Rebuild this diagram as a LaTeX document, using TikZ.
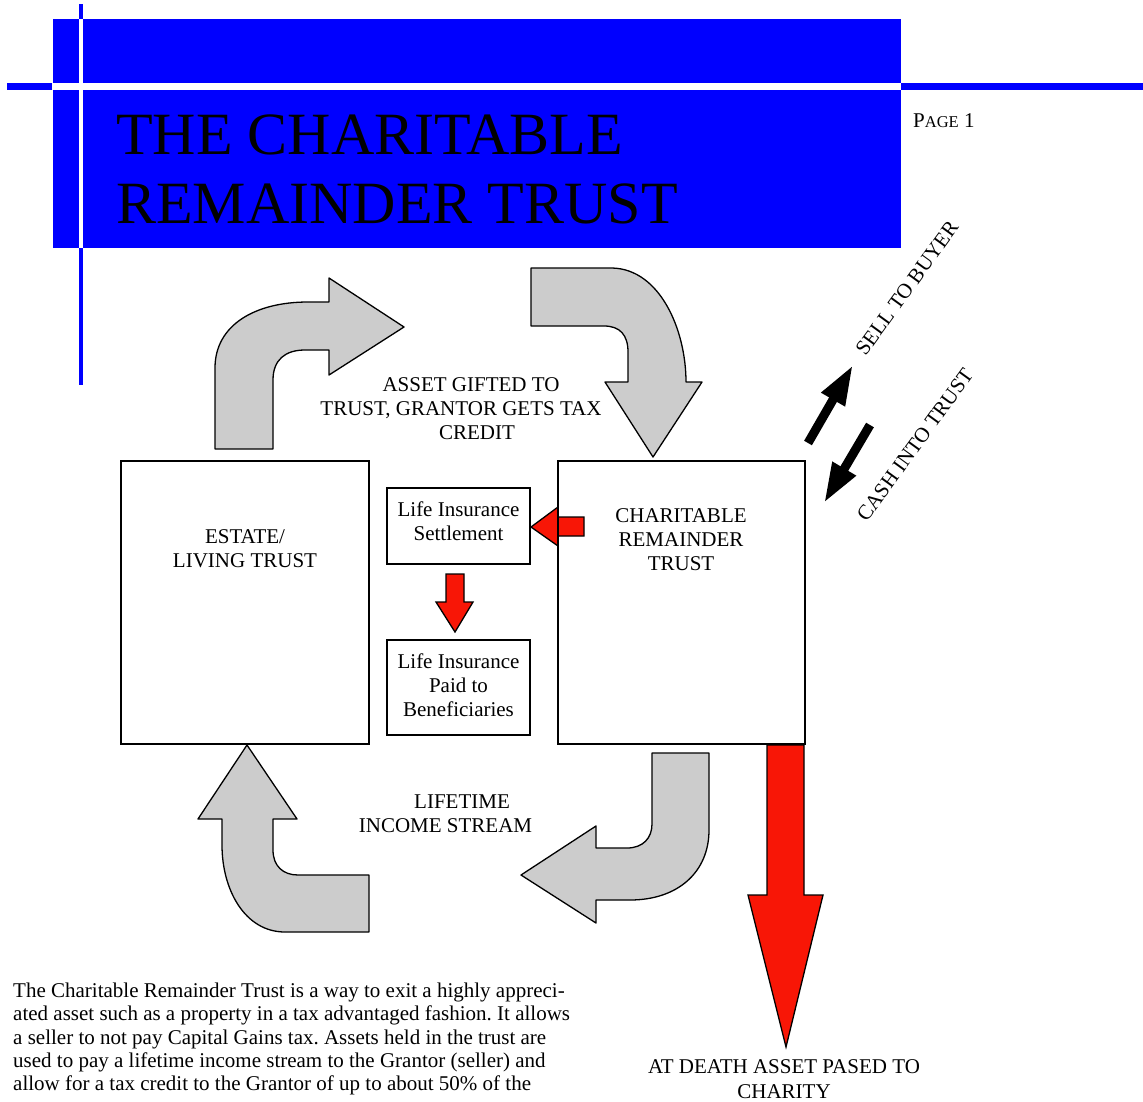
\documentclass[tikz,border=0pt]{standalone}
\usepackage{fontspec}
\setmainfont{Liberation Serif}
\usetikzlibrary{arrows.meta}
\frenchspacing
\definecolor{hdrblue}{RGB}{0,0,255}
\definecolor{arrowgray}{RGB}{204,204,204}
\definecolor{arrowred}{RGB}{248,22,6}
\tikzset{
  box/.style={draw=black, line width=2.6pt, inner sep=0pt},
  grayblock/.style={fill=arrowgray, draw=black, line width=1.3pt, line join=round},
  redblock/.style={fill=arrowred, draw=black, line width=1.3pt, line join=miter},
  lbl/.style={font=\fontsize{21}{24}\selectfont, inner sep=0pt, align=center},
  titletxt/.style={font=\fontsize{60}{70}\selectfont, inner sep=0pt, anchor=base west},
  blackarrow/.style={line width=9pt, -{Triangle[width=25pt,length=40pt]}},
}
\begin{document}
\begin{tikzpicture}[x=1pt,y=-1pt]
% canvas
\fill[white] (0,0) rectangle (1143,1101);
\useasboundingbox (0,0) rectangle (1143,1101);

% header band with cross lines
\fill[hdrblue] (53,19) rectangle (901,248);
\fill[white] (53,83) rectangle (901,90);
\fill[white] (79,19) rectangle (83,248);
\fill[hdrblue] (7,83) rectangle (52,90);
\fill[hdrblue] (901,83) rectangle (1143,90);
\fill[hdrblue] (79,4) rectangle (83,19);
\fill[hdrblue] (79,248) rectangle (83,385);

\node[titletxt] (title1) at (116,154) {THE CHARITABLE};
\node[titletxt] (title2) at (116,223) {REMAINDER TRUST};
\node[inner sep=0pt, anchor=base west] (page) at (913,127)
  {{\fontsize{21}{24}\selectfont P}{\fontsize{16.5}{24}\selectfont AGE}{\fontsize{21}{24}\selectfont\ 1}};

% gray curved arrows
\draw[grayblock] (215,449) -- (215,368) .. controls (215,325) and (255,302) .. (308,302)
  -- (329,302) -- (329,278) -- (404,327) -- (329,375) -- (329,350) -- (305,350)
  .. controls (285,350) and (273,360) .. (273,380) -- (273,449) -- cycle;
\draw[grayblock] (531,268) -- (612,268) .. controls (660,269) and (686,330) .. (686,382)
  -- (702,382) -- (653,457) -- (605,382) -- (628,382) -- (628,352)
  .. controls (628,335) and (620,326) .. (604,326) -- (531,326) -- cycle;
\draw[grayblock] (652,753) -- (709,753) -- (709,830) .. controls (709,872) and (678,900) .. (630,900)
  -- (596,900) -- (596,923) -- (521,875) -- (596,826) -- (596,848) -- (627,848)
  .. controls (643,848) and (652,838) .. (652,824) -- cycle;
\draw[grayblock] (369,875) -- (369,932) -- (285,932) .. controls (245,932) and (222,890) .. (222,845)
  -- (222,819) -- (198,819) -- (247,745) -- (297,819) -- (273,819) -- (273,850)
  .. controls (273,866) and (283,875) .. (298,875) -- cycle;

% red block arrows
\draw[redblock] (767,745) -- (804,745) -- (804,895) -- (823,895) -- (786,1047) -- (748,895) -- (767,895) -- cycle;
\draw[redblock] (584,517) -- (584,536) -- (558,536) -- (558,546) -- (531,527) -- (558,507) -- (558,517) -- cycle;
\draw[redblock] (446,574) -- (464,574) -- (464,602) -- (473,602) -- (455,632) -- (436,602) -- (446,602) -- cycle;

% boxes
\node[box, minimum width=248, minimum height=283] (estate) at (245,602.5) {};
\node[box, minimum width=247, minimum height=283] (crt) at (681.5,602.5) {};
\node[box, minimum width=143, minimum height=76] (settle) at (458.5,526) {};
\node[box, minimum width=143, minimum height=95] (paid) at (458.5,687.5) {};

% box labels
\node[lbl, anchor=north] (estatelbl) at (245,529.5) {ESTATE/\\LIVING TRUST};
\node[lbl, anchor=north] (crtlbl) at (681,508.5) {CHARITABLE\\REMAINDER\\TRUST};
\node[lbl, anchor=north] (settlelbl) at (458.5,501.5) {Life Insurance\\Settlement};
\node[lbl, anchor=north] (paidlbl) at (458.5,653.5) {Life Insurance\\Paid to\\Beneficiaries};

% flow labels
\node[lbl, anchor=base] (gift1) at (471,391) {ASSET GIFTED TO};
\node[lbl, anchor=base] (gift2) at (461,415) {TRUST, GRANTOR GETS TAX};
\node[lbl, anchor=base] (gift3) at (477,439) {CREDIT};
\node[lbl, anchor=base] (life1) at (462,808) {LIFETIME};
\node[lbl, anchor=base] (life2) at (445.5,832) {INCOME STREAM};
\node[lbl, anchor=base] (death1) at (784,1073) {AT DEATH ASSET PASED TO};
\node[lbl, anchor=base] (death2) at (784,1098) {CHARITY};

% sale arrows
\coordinate (sellTail) at (808,443);
\coordinate (sellTip) at (853,365);
\coordinate (cashTail) at (870,425);
\coordinate (cashTip) at (824,503);
\draw[blackarrow] (sellTail) -- (sellTip);
\draw[blackarrow] (cashTail) -- (cashTip);
\node[lbl, rotate=54] (sell) at (907,288) {SELL TO BUYER};
\node[lbl, rotate=54] (cash) at (915,445) {CASH INTO TRUST};

% paragraph
\node[inner sep=0pt, anchor=north west, align=left, font=\fontsize{21}{23.4}\selectfont] (para) at (13,982.5)
 {The Charitable Remainder Trust is a way to exit a highly appreci-\\
  ated asset such as a property in a tax advantaged fashion. It allows\\
  a seller to not pay Capital Gains tax. Assets held in the trust are\\
  used to pay a lifetime income stream to the Grantor (seller) and\\
  allow for a tax credit to the Grantor of up to about 50\% of the};
\end{tikzpicture}
\end{document}
